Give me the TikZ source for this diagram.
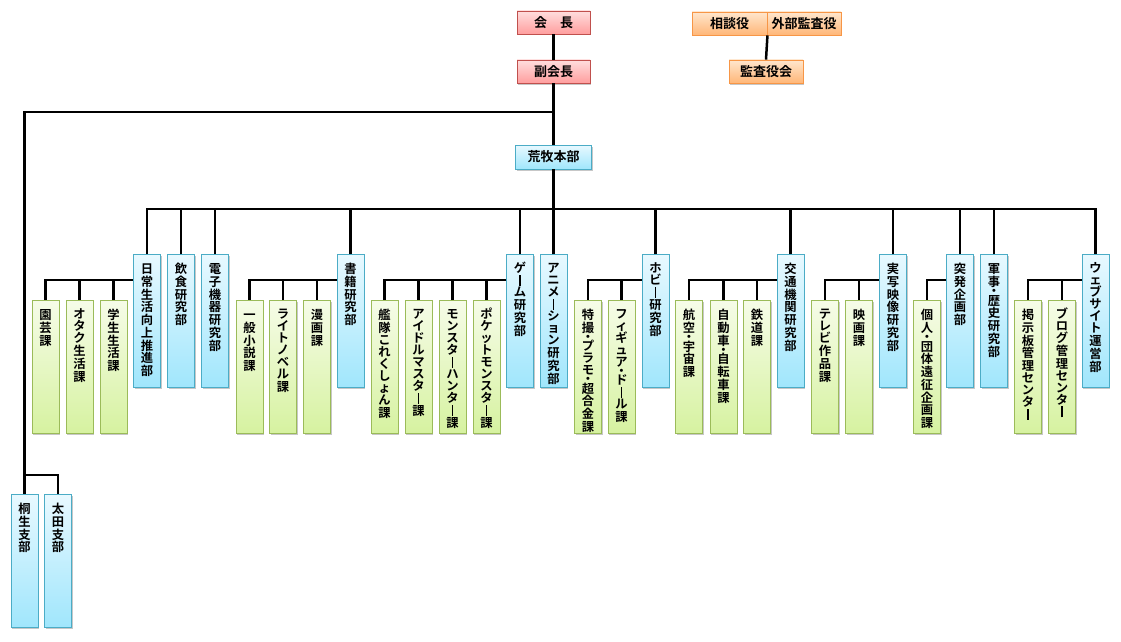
\documentclass[tikz,border=0pt]{standalone}
\usepackage{fontspec}
\setmainfont{Noto Sans CJK JP}[BoldFont={Noto Sans CJK JP Bold}]
\usetikzlibrary{shadows}
\definecolor{redline}{RGB}{192,80,77}
\definecolor{redtop}{RGB}{255,222,222}
\definecolor{redbot}{RGB}{255,158,158}
\definecolor{orline}{RGB}{247,150,70}
\definecolor{ortop}{RGB}{255,230,205}
\definecolor{orbot}{RGB}{255,183,120}
\definecolor{blline}{RGB}{75,172,198}
\definecolor{bltop}{RGB}{232,249,255}
\definecolor{blbot}{RGB}{160,230,252}
\definecolor{grline}{RGB}{155,187,89}
\definecolor{grtop}{RGB}{246,252,232}
\definecolor{grbot}{RGB}{214,242,160}
\makeatletter
\newcommand\vt[1]{\vbox{\offinterlineskip\vt@loop#1\@nil}}
\def\vt@loop#1{\ifx#1\@nil\else\vt@ch#1\expandafter\vt@loop\fi}
\def\vt@row#1#2{\hbox to 14pt{\hss\vrule height #1 depth 0pt width 0pt \smash{#2}\hss}}
\def\vt@ch#1{%
  \ifnum`#1=`・\relax \vt@row{6pt}{\raisebox{-3pt}{・}}%
  \else\ifnum`#1=`ー\relax \vt@row{12pt}{\rule[-1pt]{1.5pt}{11pt}}%
  \else\ifnum`#1>"303F\relax
     \ifnum`#1<"3100\relax \vt@row{12pt}{#1}\else\vt@row{12.75pt}{#1}\fi
  \else \vt@row{12.75pt}{#1}%
  \fi\fi\fi}
\makeatother
\newcommand\vb[1]{\vbox to 133pt{\kern6.5pt\vt{#1}\vss}}
\tikzset{
  base/.style={rectangle, draw, line width=0.9pt, inner sep=0pt, font=\fontsize{12.3}{12.3}\selectfont\bfseries,
    drop shadow={shadow xshift=1.2pt, shadow yshift=-1.5pt, fill=black, opacity=0.22}},
  topbox/.style={base, font=\fontsize{13}{13}\selectfont\bfseries, minimum height=23pt},
  redbox/.style={topbox, draw=redline, top color=redtop, bottom color=redbot, minimum width=73pt},
  orbox/.style={topbox, draw=orline, top color=ortop, bottom color=orbot, minimum width=74pt},
  hqbox/.style={topbox, draw=blline, top color=bltop, bottom color=blbot, minimum width=76pt, minimum height=24pt},
  dept/.style={base, draw=blline, top color=bltop, bottom color=blbot, minimum width=27pt, minimum height=133pt, anchor=north},
  sect/.style={base, draw=grline, top color=grtop, bottom color=grbot, minimum width=27pt, minimum height=133pt, anchor=north},
  conn/.style={line width=2.5pt, black}
}
\begin{document}
\begin{tikzpicture}[x=1pt, y=-1pt]
\useasboundingbox (0,0) rectangle (1121,642);
% top
\node[redbox] (kaicho) at (553.5,22.5) {会　長};
\node[redbox] (fuku) at (553.5,71.5) {副会長};
\node[orbox, minimum width=75pt] (soudan) at (729.5,23.5) {相談役};
\node[orbox] (gaibu) at (804,23.5) {外部監査役};
\node[orbox] (kansa) at (766,71.5) {監査役会};
\node[hqbox] (honbu) at (553.5,157) {荒牧本部};
% branches
\node[dept] (kiryu) at (24.5,494) {\vb{桐生支部}};
\node[dept] (oota) at (58,494) {\vb{太田支部}};
% departments
\node[dept] (d1) at (147,254) {\vb{日常生活向上推進部}};
\node[dept] (d2) at (181,254) {\vb{飲食研究部}};
\node[dept] (d3) at (215,254) {\vb{電子機器研究部}};
\node[dept] (d4) at (350.5,254) {\vb{書籍研究部}};
\node[dept] (d5) at (520,254) {\vb{ゲーム研究部}};
\node[dept] (d6) at (553.5,254) {\vb{アニメーション研究部}};
\node[dept] (d7) at (655.5,254) {\vb{ホビー研究部}};
\node[dept] (d8) at (790.5,254) {\vb{交通機関研究部}};
\node[dept] (d9) at (893,254) {\vb{実写映像研究部}};
\node[dept] (d10) at (960,254) {\vb{突発企画部}};
\node[dept] (d11) at (994,254) {\vb{軍事・歴史研究部}};
\node[dept] (d12) at (1095.5,254) {\vb{ウェブサイト運営部}};
% sections
\node[sect] (g1) at (45.5,300) {\vb{園芸課}};
\node[sect] (g2) at (79.5,300) {\vb{オタク生活課}};
\node[sect] (g3) at (113.5,300) {\vb{学生生活課}};
\node[sect] (g4) at (249.5,300) {\vb{一般小説課}};
\node[sect] (g5) at (283,300) {\vb{ライトノベル課}};
\node[sect] (g6) at (317,300) {\vb{漫画課}};
\node[sect] (g7) at (384.5,300) {\vb{艦隊これくしょん課}};
\node[sect] (g8) at (418.5,300) {\vb{アイドルマスター課}};
\node[sect] (g9) at (452.5,300) {\vb{モンスターハンター課}};
\node[sect] (g10) at (486.5,300) {\vb{ポケットモンスター課}};
\node[sect] (g11) at (588,300) {\vb{特撮・プラモ・超合金課}};
\node[sect] (g12) at (621.5,300) {\vb{フィギュア・ドール課}};
\node[sect] (g13) at (689,300) {\vb{航空・宇宙課}};
\node[sect] (g14) at (723.5,300) {\vb{自動車・自転車課}};
\node[sect] (g15) at (757,300) {\vb{鉄道課}};
\node[sect] (g16) at (825,300) {\vb{テレビ作品課}};
\node[sect] (g17) at (859,300) {\vb{映画課}};
\node[sect] (g18) at (927,300) {\vb{個人・団体遠征企画課}};
\node[sect] (g19) at (1028,300) {\vb{掲示板管理センター}};
\node[sect] (g20) at (1062,300) {\vb{ブログ管理センター}};
% coordinates
\coordinate (j1) at (553.5,112);
\coordinate (j2) at (24.5,475);
\coordinate (bar) at (0,209);
\coordinate (sb) at (0,280);
% connectors
\draw[conn] (kaicho) -- (fuku);
\draw[conn] (soudan.south east) -- (kansa.north);
\draw[conn] (fuku) -- (honbu);
\draw[conn] (j1) -| (j2) -| (oota.north);
\draw[conn] (j2) -- (kiryu.north);
\draw[conn] (honbu.south) -- (honbu.south |- bar);
\draw[conn] (d1.north) -- (d1.north |- bar) -- (d12.north |- bar) -- (d12.north);
\foreach \d in {d2,d3,d4,d5,d6,d7,d8,d9,d10,d11}
  \draw[conn] (\d.north) -- (\d.north |- bar);
% sub bars
\draw[conn] (d1.west |- sb) -| (g1.north);
\draw[conn] (d4.west |- sb) -| (g4.north);
\draw[conn] (d5.west |- sb) -| (g7.north);
\draw[conn] (d7.west |- sb) -| (g11.north);
\draw[conn] (d8.west |- sb) -| (g13.north);
\draw[conn] (d9.west |- sb) -| (g16.north);
\draw[conn] (d10.west |- sb) -| (g18.north);
\draw[conn] (d12.west |- sb) -| (g19.north);
\foreach \g in {g2,g3,g5,g6,g8,g9,g10,g12,g14,g15,g17,g20}
  \draw[conn] (\g.north) -- (\g.north |- sb);
\end{tikzpicture}
\end{document}
